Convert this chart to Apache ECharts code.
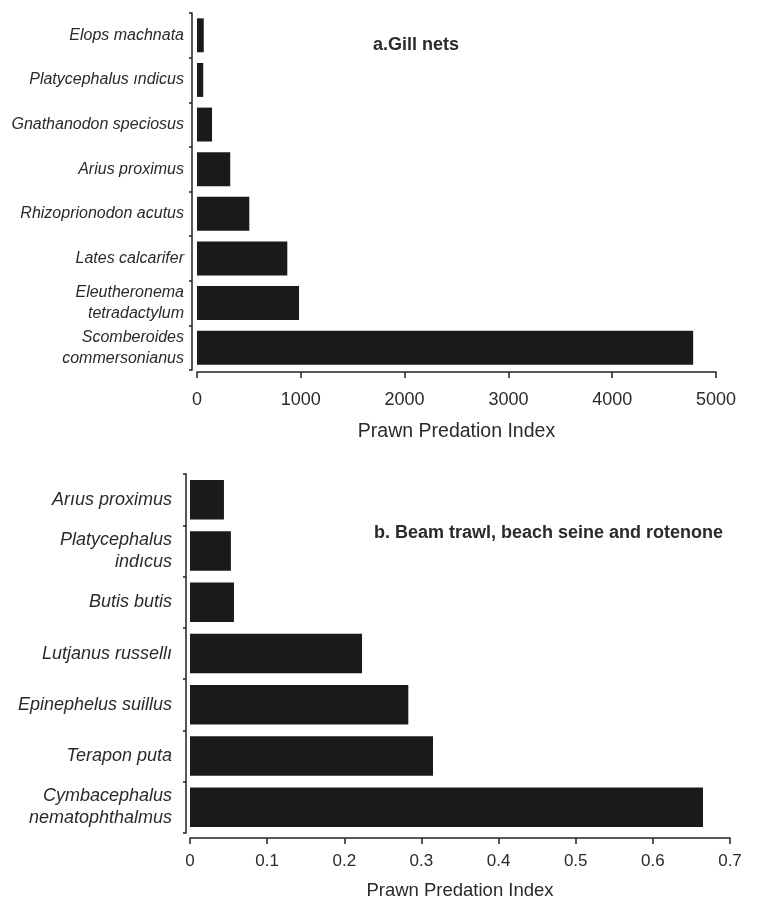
<!DOCTYPE html>
<html>
<head>
<meta charset="utf-8">
<script src="https://cdn.jsdelivr.net/npm/echarts@6/dist/echarts.min.js"></script>
<style>
  html, body { margin: 0; padding: 0; background: #fff; }
  #chart { width: 757px; height: 905px; }
</style>
</head>
<body>
<div id="chart"></div>
<script>
// Panel a: gill nets
const gillSpecies = [
  'Elops machnata',
  'Platycephalus ındicus',
  'Gnathanodon speciosus',
  'Arius proximus',
  'Rhizoprionodon acutus',
  'Lates calcarifer',
  'Eleutheronema\ntetradactylum',
  'Scomberoides\ncommersonianus'
];
const gillIndex = [65, 60, 145, 320, 504, 870, 983, 4780];
const gillTicks = [0, 1000, 2000, 3000, 4000, 5000];

// Panel b: beam trawl, beach seine and rotenone
const trawlSpecies = [
  'Arıus proximus',
  'Platycephalus\nindıcus',
  'Butis butis',
  'Lutjanus russellı',
  'Epinephelus suillus',
  'Terapon puta',
  'Cymbacephalus\nnematophthalmus'
];
const trawlIndex = [0.044, 0.053, 0.057, 0.223, 0.283, 0.315, 0.665];
const trawlTicks = [0, 0.1, 0.2, 0.3, 0.4, 0.5, 0.6, 0.7];

const axisTitle = 'Prawn Predation Index';
const titleA = 'a.Gill nets';
const titleB = 'b. Beam trawl, beach seine and rotenone';

const ink = '#1a1a1a';
const textColor = '#2a2a2a';
const font = 'Liberation Sans, Arial, Helvetica, sans-serif';

function valueAxis(gridIndex, ticks, decimals, o) {
  return {
    type: 'value',
    gridIndex: gridIndex,
    min: ticks[0],
    max: ticks[ticks.length - 1],
    interval: ticks[1] - ticks[0],
    offset: o.offset,
    name: axisTitle,
    nameLocation: 'middle',
    nameGap: o.nameGap,
    nameTextStyle: { fontFamily: font, fontSize: o.nameSize, color: textColor },
    axisLine: { show: true, onZero: false, lineStyle: { color: '#222', width: 1.5 } },
    axisTick: { show: true, inside: false, length: 6, lineStyle: { color: '#222', width: 1.5 } },
    axisLabel: {
      margin: o.labelMargin,
      fontFamily: font, fontSize: o.labelSize, color: textColor,
      formatter: v => decimals ? (v === 0 ? '0' : v.toFixed(decimals)) : String(Math.round(v))
    },
    splitLine: { show: false }
  };
}

// The category axis sits a few pixels left of the zero line, so it is
// detached from the value origin.
function categoryAxis(gridIndex, cats, o) {
  return {
    type: 'category',
    gridIndex: gridIndex,
    data: cats,
    inverse: true,
    offset: o.offset,
    axisLine: { show: true, onZero: false, lineStyle: { color: '#222', width: 1.5 } },
    axisTick: { show: true, length: 3, lineStyle: { color: '#222', width: 1.5 } },
    axisLabel: {
      margin: o.margin,
      fontFamily: font, fontSize: o.size, fontStyle: 'italic', color: textColor,
      lineHeight: o.lineHeight, align: 'right'
    }
  };
}

const chart = echarts.init(document.getElementById('chart'), null, { renderer: 'canvas' });
chart.setOption({
  backgroundColor: '#fff',
  animation: false,
  grid: [
    { left: 197, top: 13, width: 519, height: 357 },
    { left: 190, top: 474, width: 540, height: 359 }
  ],
  xAxis: [
    valueAxis(0, gillTicks, 0, { offset: 2, nameGap: 50, nameSize: 19.5, labelSize: 18, labelMargin: 19 }),
    valueAxis(1, trawlTicks, 1, { offset: 5, nameGap: 43, nameSize: 18.5, labelSize: 17, labelMargin: 15 })
  ],
  yAxis: [
    categoryAxis(0, gillSpecies, { offset: 5, size: 16, lineHeight: 21, margin: 8 }),
    categoryAxis(1, trawlSpecies, { offset: 4, size: 18, lineHeight: 22, margin: 14 })
  ],
  series: [
    {
      type: 'bar', xAxisIndex: 0, yAxisIndex: 0,
      data: gillIndex, barCategoryGap: '24%',
      itemStyle: { color: ink }
    },
    {
      type: 'bar', xAxisIndex: 1, yAxisIndex: 1,
      data: trawlIndex, barCategoryGap: '23%',
      itemStyle: { color: ink }
    }
  ],
  graphic: [
    {
      type: 'text', left: 373, top: 36,
      style: { text: titleA, font: 'bold 18px ' + font, fill: textColor }
    },
    {
      type: 'text', left: 374, top: 524,
      style: { text: titleB, font: 'bold 18px ' + font, fill: textColor }
    }
  ]
});
</script>
</body>
</html>
